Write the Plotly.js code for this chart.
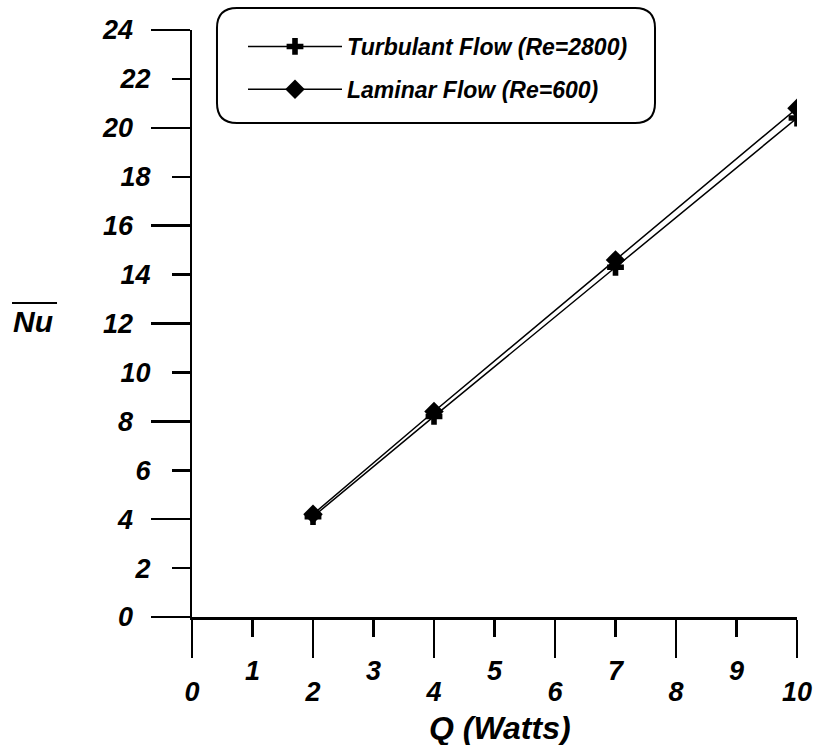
<!DOCTYPE html>
<html>
<head>
<meta charset="utf-8">
<script src="https://cdn.plot.ly/plotly-3.0.1.min.js"></script>
<style>html,body{margin:0;padding:0;background:#fff;}#chart{width:817px;height:745px;}</style>
</head>
<body>
<div id="chart"></div>
<script>
// ---- data ----
const qWatts = [2, 4, 7, 10];
const nuTurbulent = [4.1, 8.2, 14.3, 20.4];
const nuLaminar = [4.2, 8.4, 14.6, 20.8];
const seriesNames = ['Turbulant Flow (Re=2800)', 'Laminar Flow (Re=600)'];
const xTicksEven = [0, 2, 4, 6, 8, 10];
const xTicksOdd = [1, 3, 5, 7, 9];
const yTicksLong = [0, 4, 8, 12, 16, 20, 24];
const yTicksShort = [2, 6, 10, 14, 18, 22];

const FONT = 'Liberation Sans, Arial, sans-serif';
const tickFont = {family: FONT, size: 27, weight: 'bold', style: 'italic', color: '#000'};
const bi = v => '<b><i>' + v + '</i></b>';

const traces = [
  {x: qWatts, y: nuTurbulent, name: seriesNames[0], mode: 'lines+markers', legendgroup: 't',
   line: {color: '#000', width: 1.5}, marker: {symbol: 'cross', size: 14, color: '#000'}},
  {x: qWatts, y: nuLaminar, name: seriesNames[1], mode: 'lines+markers', legendgroup: 'l',
   line: {color: '#000', width: 1.5}, marker: {symbol: 'diamond', size: 15, color: '#000'}},
  {x: [], y: [], xaxis: 'x2', yaxis: 'y2', showlegend: false, hoverinfo: 'skip'}
];

const baseAx = {showgrid: false, zeroline: false, ticks: 'outside', tickwidth: 2.5, tickcolor: '#000',
  tickfont: tickFont, fixedrange: true, tickmode: 'array'};

const rx = 20 / 605, ry = 20 / 587;
const bx0 = 0.0413, bx1 = 0.7653, byT = 1.0375, byB = 0.8416;
const boxPath = `M ${bx0+rx},${byT} L ${bx1-rx},${byT} Q ${bx1},${byT} ${bx1},${byT-ry} L ${bx1},${byB+ry} Q ${bx1},${byB} ${bx1-rx},${byB} L ${bx0+rx},${byB} Q ${bx0},${byB} ${bx0},${byB+ry} L ${bx0},${byT-ry} Q ${bx0},${byT} ${bx0+rx},${byT} Z`;

const layout = {
  width: 817, height: 745,
  margin: {l: 192, r: 20, t: 30, b: 128},
  paper_bgcolor: '#fff', plot_bgcolor: '#fff',
  showlegend: true,
  xaxis: Object.assign({}, baseAx, {range: [0, 10], tickvals: xTicksEven, ticktext: xTicksEven.map(bi),
    ticklen: 38, showline: true, linewidth: 2.5, linecolor: '#000', ticklabelstandoff: 11}),
  xaxis2: Object.assign({}, baseAx, {range: [0, 10], tickvals: xTicksOdd, ticktext: xTicksOdd.map(bi),
    ticklen: 19, showline: false, overlaying: 'x', anchor: 'y', side: 'bottom', ticklabelstandoff: 11}),
  yaxis: Object.assign({}, baseAx, {range: [0, 24], tickvals: yTicksLong, ticktext: yTicksLong.map(bi),
    ticklen: 39, showline: true, linewidth: 2.5, linecolor: '#000', ticklabelstandoff: 12}),
  yaxis2: Object.assign({}, baseAx, {range: [0, 24], tickvals: yTicksShort, ticktext: yTicksShort.map(bi),
    ticklen: 19, showline: false, overlaying: 'y', anchor: 'x', side: 'left', ticklabelstandoff: 16}),
  legend: {x: 0.0843, y: 1.0085, xanchor: 'left', yanchor: 'top', bgcolor: 'rgba(0,0,0,0)', borderwidth: 0,
    traceorder: 'grouped', tracegroupgap: 10, itemwidth: 94,
    font: {family: FONT, size: 23, weight: 'bold', style: 'italic', color: '#000'}},
  shapes: [
    {type: 'path', xref: 'paper', yref: 'paper', path: boxPath, line: {color: '#000', width: 2}, fillcolor: 'rgba(0,0,0,0)'},
    {type: 'line', xref: 'paper', yref: 'paper', x0: -0.2975, x1: -0.2231, y0: 0.535, y1: 0.535, line: {color: '#000', width: 2}}
  ],
  annotations: [
    {text: 'Nu', xref: 'paper', yref: 'paper', x: -0.263, y: 0.5026, showarrow: false, xanchor: 'center', yanchor: 'middle',
     font: {family: FONT, size: 30, weight: 'bold', style: 'italic', color: '#000'}},
    {text: 'Q (Watts)', xref: 'paper', yref: 'paper', x: 0.509, y: -0.189, showarrow: false, xanchor: 'center', yanchor: 'middle',
     font: {family: FONT, size: 32, weight: 'bold', style: 'italic', color: '#000'}}
  ]
};

Plotly.newPlot('chart', traces, layout, {displayModeBar: false, staticPlot: true});
</script>
</body>
</html>
